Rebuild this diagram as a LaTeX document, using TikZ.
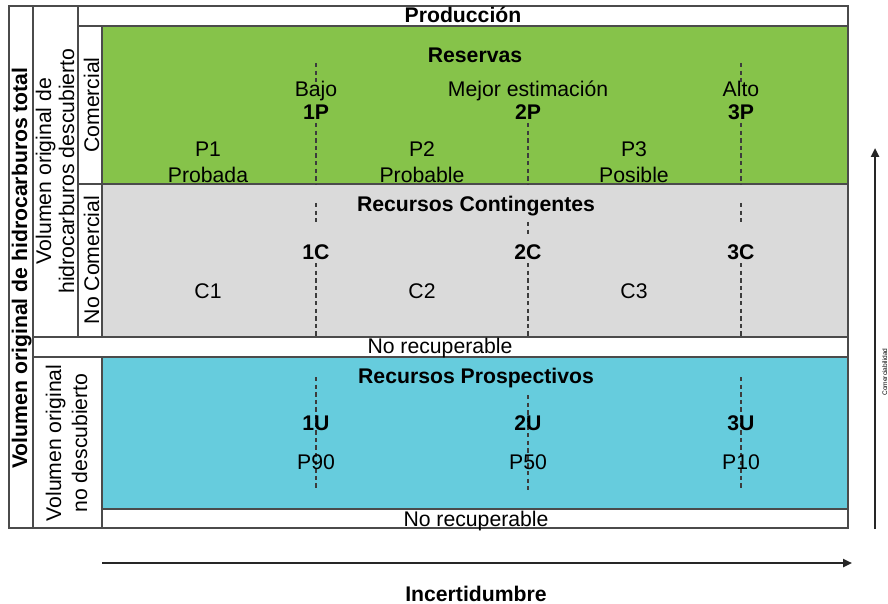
\documentclass[tikz,border=0pt]{standalone}
\usepackage{fontspec}
\setmainfont{Liberation Sans}
\usetikzlibrary{arrows.meta}
\definecolor{resgreen}{RGB}{134,195,74}
\definecolor{contgray}{RGB}{218,218,218}
\definecolor{prosblue}{RGB}{102,204,221}
\definecolor{linec}{RGB}{75,75,75}
\definecolor{dashc}{RGB}{60,60,60}
\tikzset{
  txt/.style={font=\fontsize{10.6}{12}\selectfont, inner sep=0pt, anchor=base},
  btxt/.style={txt, font=\fontsize{10.6}{12}\selectfont\bfseries},
  vtxt/.style={txt, rotate=90},
  vbtxt/.style={btxt, rotate=90},
  grid/.style={draw=linec, line width=1pt},
  outer/.style={draw=linec, line width=1.2pt},
  dashln/.style={draw=dashc, line width=0.6pt, dash pattern=on 2.2pt off 1.6pt},
  axis/.style={draw=black!85, line width=1.4pt, -{Triangle[length=4.5pt,width=4pt]}}
}
\begin{document}
\begin{tikzpicture}[x=0.5pt,y=-0.5pt]
\useasboundingbox (0,0) rectangle (888,604);
\fill[white] (0,0) rectangle (888,604);
% coloured bands
\fill[resgreen] (102,26) rectangle (848,184);
\fill[contgray] (102,184) rectangle (848,337);
\fill[prosblue] (102,357) rectangle (848,509);
% grid lines
\draw[grid] (78,26) -- (848,26);
\draw[grid] (78,184) -- (848,184);
\draw[grid] (33,337) -- (848,337);
\draw[grid] (33,357) -- (848,357);
\draw[grid] (102,509) -- (848,509);
\draw[grid] (33,6) -- (33,528);
\draw[grid] (78,6) -- (78,337);
\draw[grid] (102,26) -- (102,337);
\draw[grid] (102,357) -- (102,528);
\draw[outer] (9,6) rectangle (848,528);
% dashed markers
\draw[dashln] (316,63) -- (316,82);
\draw[dashln] (316,123) -- (316,184);
\draw[dashln] (528,123) -- (528,184);
\draw[dashln] (741,63) -- (741,82);
\draw[dashln] (741,123) -- (741,184);
\draw[dashln] (316,203) -- (316,222);
\draw[dashln] (316,263) -- (316,337);
\draw[dashln] (528,222) -- (528,236);
\draw[dashln] (528,263) -- (528,337);
\draw[dashln] (741,203) -- (741,222);
\draw[dashln] (741,263) -- (741,337);
\draw[dashln] (316,377) -- (316,490);
\draw[dashln] (528,395) -- (528,490);
\draw[dashln] (741,377) -- (741,490);
% left column labels
\node[vbtxt] (total) at (27,268) {Volumen original de hidrocarburos total};
\node[vtxt] (desc1) at (51,171) {Volumen original de};
\node[vtxt] (desc2) at (74,171) {hidrocarburos descubierto};
\node[vtxt] (com) at (99,105) {Comercial};
\node[vtxt] (nocom) at (99,260) {No Comercial};
\node[vtxt] (nodesc1) at (61,443) {Volumen original};
\node[vtxt] (nodesc2) at (87,443) {no descubierto};
% top row
\node[btxt] (prod) at (463,23) {Producción};
% reservas
\node[btxt] (res) at (475,63) {Reservas};
\node[txt] (bajo) at (316,97) {Bajo};
\node[btxt] (p1p) at (316,120) {1P};
\node[txt] (mejor) at (528,97) {Mejor estimación};
\node[btxt] (p2p) at (528,120) {2P};
\node[txt] (alto) at (741,97) {Alto};
\node[btxt] (p3p) at (741,120) {3P};
\node[txt] (pp1) at (208,157) {P1};
\node[txt] (prob1) at (208,183) {Probada};
\node[txt] (pp2) at (422,157) {P2};
\node[txt] (prob2) at (422,183) {Probable};
\node[txt] (pp3) at (634,157) {P3};
\node[txt] (prob3) at (634,183) {Posible};
% contingentes
\node[btxt] (cont) at (476,212) {Recursos Contingentes};
\node[btxt] (c1c) at (316,259) {1C};
\node[btxt] (c2c) at (528,259) {2C};
\node[btxt] (c3c) at (741,259) {3C};
\node[txt] (cc1) at (208,298) {C1};
\node[txt] (cc2) at (422,298) {C2};
\node[txt] (cc3) at (634,298) {C3};
\node[txt] (norec1) at (440,353) {No recuperable};
% prospectivos
\node[btxt] (pros) at (476,383) {Recursos Prospectivos};
\node[btxt] (u1u) at (316,430) {1U};
\node[btxt] (u2u) at (528,430) {2U};
\node[btxt] (u3u) at (741,430) {3U};
\node[txt] (p90) at (316,469) {P90};
\node[txt] (p50) at (528,469) {P50};
\node[txt] (p10) at (741,469) {P10};
\node[txt] (norec2) at (476,526) {No recuperable};
% axes
\coordinate (hx0) at (102,563);
\coordinate (hx1) at (852,563);
\draw[axis] (hx0) -- (hx1);
\node[btxt] (incert) at (476,601) {Incertidumbre};
\coordinate (vy0) at (875,529);
\coordinate (vy1) at (875,148);
\draw[axis] (vy0) -- (vy1);
\node[font=\fontsize{3.3}{4}\selectfont, inner sep=0pt, anchor=base, rotate=90] (comerc) at (887,372) {Comerciabilidad};
\end{tikzpicture}
\end{document}
